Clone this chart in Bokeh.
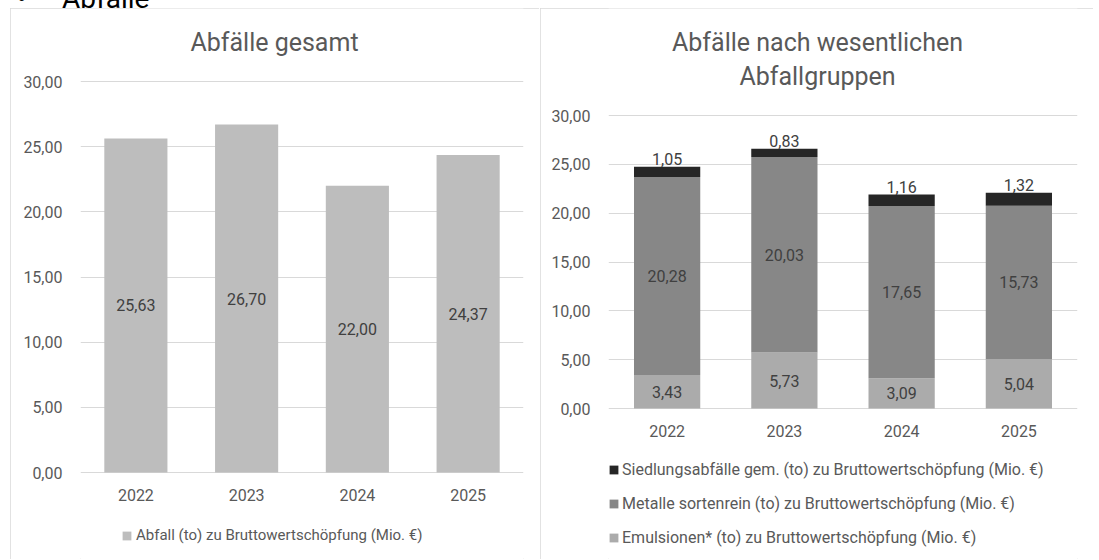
from bokeh.plotting import figure
from bokeh.models import (ColumnDataSource, LabelSet, Label, Legend, LegendItem, Div,
                          CustomJSTickFormatter, FixedTicker, Range1d)
from bokeh.core.properties import value
from bokeh.embed import file_html
from bokeh.resources import INLINE

# ---------------- data ----------------
years = ["2022", "2023", "2024", "2025"]
abfall_gesamt = [25.63, 26.70, 22.00, 24.37]
emulsionen = [3.43, 5.73, 3.09, 5.04]
metalle = [20.28, 20.03, 17.65, 15.73]
siedlung = [1.05, 0.83, 1.16, 1.32]
y_ticks = [0, 5, 10, 15, 20, 25, 30]

heading = "Abfälle"
title_left = "Abfälle gesamt"
title_right_1 = "Abfälle nach wesentlichen"
title_right_2 = "Abfallgruppen"
leg_left = "Abfall (to) zu Bruttowertschöpfung (Mio. €)"
leg_s = "Siedlungsabfälle gem. (to) zu Bruttowertschöpfung (Mio. €)"
leg_m = "Metalle sortenrein (to) zu Bruttowertschöpfung (Mio. €)"
leg_e = "Emulsionen* (to) zu Bruttowertschöpfung (Mio. €)"

FONT = "Roboto"
TXT = "#595959"
LBL = "#404040"
GRID = "#D9D9D9"
C_TOTAL = "#BDBDBD"
C_E = "#ABABAB"
C_M = "#878787"
C_S = "#262626"

H = 551          # figure height (page y 8 .. 559)
TOP = 8          # page y of figure top


def fmt(v):
    return f"{v:.2f}".replace(".", ",")


def make_fig(width, left_px, border_left, border_right, y30_px, y0_px):
    # frame covers the whole height; the 0..30 band is placed via the range
    ppu = (y0_px - y30_px) / 30.0
    y_end = 30 + (y30_px - TOP) / ppu
    y_start = -((TOP + H) - y0_px) / ppu
    p = figure(x_range=years, y_range=Range1d(y_start, y_end), width=width, height=H,
               output_backend="svg", toolbar_location=None, title=None,
               x_axis_location="above",
               min_border_left=border_left, min_border_right=border_right,
               min_border_top=0, min_border_bottom=0)
    p.outline_line_color = None
    p.xgrid.grid_line_color = None
    p.ygrid.grid_line_color = GRID
    p.ygrid.grid_line_width = 1
    for ax in (p.xaxis, p.yaxis):
        ax.axis_line_color = None
        ax.major_tick_line_color = None
        ax.minor_tick_line_color = None
        ax.major_tick_out = 0
        ax.major_tick_in = 0
        ax.major_label_text_font = FONT
        ax.major_label_text_color = TXT
        ax.major_label_text_font_size = "16px"
    p.yaxis.ticker = FixedTicker(ticks=y_ticks)
    p.yaxis.formatter = CustomJSTickFormatter(code="return tick.toFixed(2).replace('.', ',');")
    p.yaxis.major_label_standoff = 18
    p.xaxis.fixed_location = 0
    p.xaxis.major_label_standoff = -28
    p.styles = {"position": "absolute", "left": f"{left_px}px", "top": f"{TOP}px",
                "outline": "1px solid #D9D9D9", "outline-offset": "-1px"}
    return p


def title_label(p, text, y_off, x_off):
    p.add_layout(Label(x=2, y=30, x_offset=x_off, y_offset=y_off, text=text,
                       text_align="center", text_baseline="alphabetic",
                       text_font=FONT, text_font_size="25px", text_color=TXT))


# ---------------- left chart ----------------
p1 = make_fig(529, 10, 70, 16, 81, 472)
title_label(p1, title_left, 39.5, -27.5)

src1 = ColumnDataSource(dict(
    x=years, y=abfall_gesamt,
    mid=[v / 2 for v in abfall_gesamt],
    lab=[fmt(v) for v in abfall_gesamt]))
r1 = p1.vbar(x="x", top="y", width=0.57, source=src1, color=C_TOTAL, line_color=None)
p1.add_layout(LabelSet(x="x", y="mid", text="lab", source=src1, text_align="center",
                       text_baseline="middle", text_font=value(FONT),
                       text_font_size="16px", text_color=LBL))
lg1 = Legend(items=[LegendItem(label=leg_left, renderers=[r1])], location=(41, 15),
             orientation="vertical", padding=0, margin=0, glyph_width=11, glyph_height=11,
             label_standoff=4, label_height=18, label_text_font=FONT,
             label_text_font_size="15px", label_text_color=TXT,
             background_fill_alpha=0, border_line_alpha=0)
p1.add_layout(lg1)

# ---------------- right chart ----------------
p2 = make_fig(553, 540, 68, 16, 115, 408)
title_label(p2, title_right_1, 73.3, -25.5)
title_label(p2, title_right_2, 39.3, -25.5)

tot = [e + m + s for e, m, s in zip(emulsionen, metalle, siedlung)]
src2 = ColumnDataSource(dict(
    x=years, e=emulsionen, m=metalle, s=siedlung,
    e_mid=[e / 2 for e in emulsionen],
    m_mid=[e + m / 2 for e, m in zip(emulsionen, metalle)],
    top=tot,
    e_lab=[fmt(v) for v in emulsionen],
    m_lab=[fmt(v) for v in metalle],
    s_lab=[fmt(v) for v in siedlung]))
rs = p2.vbar_stack(["e", "m", "s"], x="x", width=0.565, source=src2,
                   color=[C_E, C_M, C_S], line_color=None)
for col, ycol in (("e_lab", "e_mid"), ("m_lab", "m_mid")):
    p2.add_layout(LabelSet(x="x", y=ycol, text=col, source=src2, text_align="center",
                           text_baseline="middle", text_font=value(FONT),
                           text_font_size="16px", text_color=LBL))
p2.add_layout(LabelSet(x="x", y="top", text="s_lab", source=src2, text_align="center",
                       text_baseline="bottom", y_offset=2, text_font=value(FONT),
                       text_font_size="16px", text_color=LBL))
lg2 = Legend(items=[LegendItem(label=leg_s, renderers=[rs[2]]),
                    LegendItem(label=leg_m, renderers=[rs[1]]),
                    LegendItem(label=leg_e, renderers=[rs[0]])],
             location=(0, 12), orientation="vertical", padding=0, margin=0,
             spacing=15, glyph_width=11, glyph_height=11, label_standoff=3,
             label_height=18, label_text_font=FONT, label_text_font_size="16px",
             label_text_color=TXT, background_fill_alpha=0, border_line_alpha=0)
p2.add_layout(lg2)

# page heading above the panels (mostly outside the visible window, as in the original)
head = Div(text=f'<span style="position:absolute;left:0px;top:0px">&bull;</span>'
                f'<span style="position:absolute;left:45px;top:0px">{heading}</span>',
           width=200, height=30,
           styles={"position": "absolute", "left": "12px", "top": "-20px",
                   "font-family": FONT, "font-size": "28px", "line-height": "28px",
                   "color": "#000000"})

open("out.html", "w").write(file_html([p1, p2, head], INLINE))
